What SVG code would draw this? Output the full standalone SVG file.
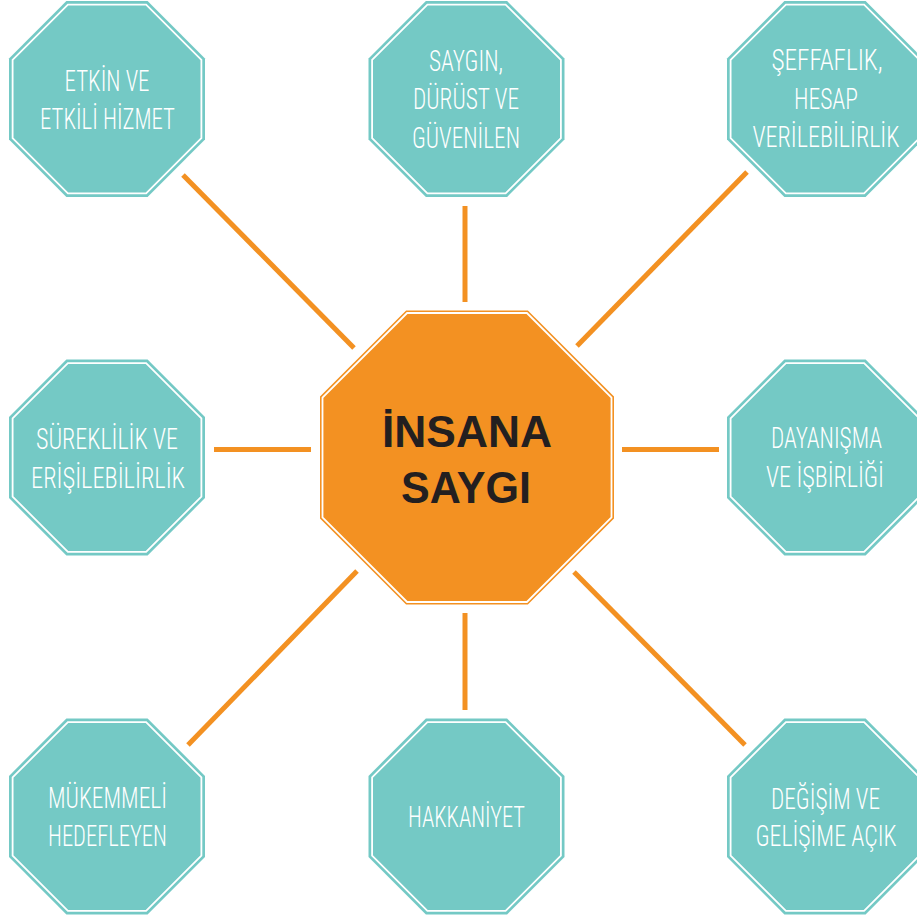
<svg xmlns="http://www.w3.org/2000/svg" width="917" height="918" viewBox="0 0 917 918">
<defs>
<style>
.tealo{fill:#74c9c5}
.ring{fill:none;stroke:#ffffff;stroke-width:1.8}
.orgo{fill:#f39122}
.lbl{font-family:"Roboto Condensed","DejaVu Sans Condensed","Liberation Sans",sans-serif;font-size:30px;fill:#ffffff;text-anchor:middle;font-weight:300}
.ctr{font-family:"Liberation Sans",Arial,sans-serif;font-size:44px;font-weight:bold;fill:#231f20;text-anchor:middle}
.conn line{stroke:#f39122;stroke-width:5;stroke-linecap:butt}
</style>
<polygon id="oct" points="-40.6,-98 40.6,-98 98,-40.6 98,40.6 40.6,98 -40.6,98 -98,40.6 -98,-40.6"/>
<polygon id="octIn" points="-39.1,-94.4 39.1,-94.4 94.4,-39.1 94.4,39.1 39.1,94.4 -39.1,94.4 -94.4,39.1 -94.4,-39.1"/>
</defs>
<rect width="917" height="918" fill="#ffffff"/>
<g id="connectors" class="conn">
<line x1="183" y1="175" x2="354" y2="348"/>
<line x1="465" y1="206" x2="465" y2="302"/>
<line x1="747" y1="172" x2="577" y2="346"/>
<line x1="214" y1="449.5" x2="311" y2="449.5"/>
<line x1="622" y1="449.5" x2="719" y2="449.5"/>
<line x1="357" y1="571" x2="188" y2="745"/>
<line x1="465" y1="613" x2="465" y2="710"/>
<line x1="574" y1="572" x2="745" y2="745"/>
</g>
<g id="center">
<polygon class="orgo" points="406.1,310.5 527.9,310.5 614,396.6 614,518.4 527.9,604.5 406.1,604.5 320,518.4 320,396.6"/>
<polygon class="ring" points="407.1,313 526.9,313 611.5,397.6 611.5,517.4 526.9,602 407.1,602 322.5,517.4 322.5,397.6"/>
<text class="ctr" x="467" y="447" textLength="170" lengthAdjust="spacingAndGlyphs">İNSANA</text>
<text class="ctr" x="466" y="503" textLength="130" lengthAdjust="spacingAndGlyphs">SAYGI</text>
</g>
<g id="n1" transform="translate(107,99)">
<use href="#oct" class="tealo"/><use href="#octIn" class="ring"/>
</g>
<g id="n1t"><text class="lbl" x="107" y="90.5" textLength="85" lengthAdjust="spacingAndGlyphs">ETKİN VE</text>
<text class="lbl" x="107.5" y="128.5" textLength="135" lengthAdjust="spacingAndGlyphs">ETKİLİ HİZMET</text></g>
<g id="n2" transform="translate(466.5,99)">
<use href="#oct" class="tealo"/><use href="#octIn" class="ring"/>
</g>
<g id="n2t"><text class="lbl" x="466" y="71" textLength="74" lengthAdjust="spacingAndGlyphs">SAYGIN,</text>
<text class="lbl" x="466" y="109.3" textLength="106" lengthAdjust="spacingAndGlyphs">DÜRÜST VE</text>
<text class="lbl" x="466" y="147.7" textLength="108" lengthAdjust="spacingAndGlyphs">GÜVENİLEN</text></g>
<g id="n3" transform="translate(825,99)">
<use href="#oct" class="tealo"/><use href="#octIn" class="ring"/>
</g>
<g id="n3t"><text class="lbl" x="827" y="70" textLength="111" lengthAdjust="spacingAndGlyphs">ŞEFFAFLIK,</text>
<text class="lbl" x="826" y="108.5" textLength="64" lengthAdjust="spacingAndGlyphs">HESAP</text>
<text class="lbl" x="826" y="147" textLength="147" lengthAdjust="spacingAndGlyphs">VERİLEBİLİRLİK</text></g>
<g id="n4" transform="translate(107,457.5)">
<use href="#oct" class="tealo"/><use href="#octIn" class="ring"/>
</g>
<g id="n4t"><text class="lbl" x="107" y="449" textLength="142" lengthAdjust="spacingAndGlyphs">SÜREKLİLİK VE</text>
<text class="lbl" x="108" y="488" textLength="154" lengthAdjust="spacingAndGlyphs">ERİŞİLEBİLİRLİK</text></g>
<g id="n5" transform="translate(825,457.5)">
<use href="#oct" class="tealo"/><use href="#octIn" class="ring"/>
</g>
<g id="n5t"><text class="lbl" x="826.5" y="448" textLength="111" lengthAdjust="spacingAndGlyphs">DAYANIŞMA</text>
<text class="lbl" x="825" y="487" textLength="118" lengthAdjust="spacingAndGlyphs">VE İŞBİRLİĞİ</text></g>
<g id="n6" transform="translate(107,816.5)">
<use href="#oct" class="tealo"/><use href="#octIn" class="ring"/>
</g>
<g id="n6t"><text class="lbl" x="107.5" y="808" textLength="119" lengthAdjust="spacingAndGlyphs">MÜKEMMELİ</text>
<text class="lbl" x="107.5" y="846" textLength="119" lengthAdjust="spacingAndGlyphs">HEDEFLEYEN</text></g>
<g id="n7" transform="translate(466.5,816.5)">
<use href="#oct" class="tealo"/><use href="#octIn" class="ring"/>
</g>
<g id="n7t"><text class="lbl" x="466.5" y="827" textLength="117" lengthAdjust="spacingAndGlyphs">HAKKANİYET</text></g>
<g id="n8" transform="translate(825,816.5)">
<use href="#oct" class="tealo"/><use href="#octIn" class="ring"/>
</g>
<g id="n8t"><text class="lbl" x="825.5" y="809" textLength="109" lengthAdjust="spacingAndGlyphs">DEĞİŞİM VE</text>
<text class="lbl" x="826" y="846" textLength="141" lengthAdjust="spacingAndGlyphs">GELİŞİME AÇIK</text></g>
</svg>
